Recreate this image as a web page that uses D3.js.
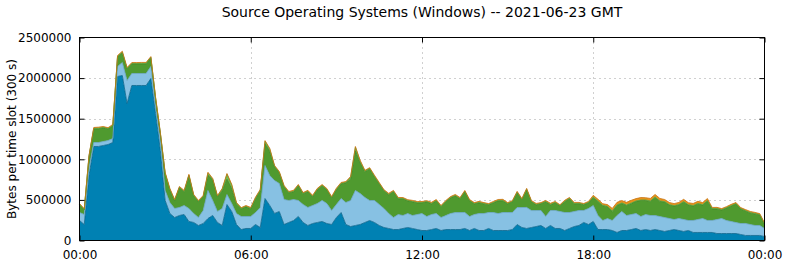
<!DOCTYPE html>
<html>
<head>
<meta charset="utf-8">
<script src="https://cdn.jsdelivr.net/npm/d3@7"></script>
<style>
  body { margin: 0; background: #ffffff; }
  svg text { font-family: "DejaVu Sans", sans-serif; fill: #000; }
</style>
</head>
<body>
<script>
// ------------------ data (thousands of bytes per 300 s slot, read every 10 min) ------------------
var slotMinutes = d3.range(0, 1441, 10);   // 00:00 .. 24:00

var win10 = [246,197,800,1158,1158,1170,1182,1207,2020,2032,1687,1909,1909,1909,1909,1995,1564,1108,493,333,
  283,308,320,234,222,185,209,271,308,222,185,443,357,197,135,148,148,197,160,517,
  431,333,357,197,222,246,296,222,185,209,222,234,209,197,283,345,197,172,185,197,
  222,246,222,185,160,148,135,135,148,160,148,135,123,123,135,148,123,135,135,135,
  135,148,123,148,123,123,148,123,123,123,123,135,197,160,148,160,172,185,148,185,
  148,148,123,148,172,185,222,197,234,135,135,135,123,99,123,123,135,148,123,135,
  123,135,123,111,123,135,123,111,123,99,99,99,99,99,86,86,86,86,86,74,
  62,62,62,62,49];

var win7 = [99,123,86,49,49,49,49,49,123,160,283,148,148,148,148,148,74,123,123,135,
  111,99,111,160,111,99,160,345,185,135,209,123,99,135,160,148,148,148,246,406,
  369,406,345,308,271,259,197,222,222,222,234,259,246,172,160,172,271,320,431,382,
  308,246,271,259,234,185,148,185,160,172,160,185,209,172,185,185,160,172,197,209,
  209,197,172,172,209,209,197,222,209,222,222,209,209,246,259,209,197,185,148,185,
  222,209,222,197,185,185,148,197,197,172,111,135,123,209,234,185,185,185,172,185,
  185,172,172,172,148,123,148,148,123,148,160,172,148,148,172,185,160,148,135,135,
  148,135,123,123,99];

var win81 = [95,58,144,169,169,169,144,156,119,119,144,119,119,119,119,107,107,83,206,156,
  95,243,169,403,218,193,169,187,255,181,216,189,179,119,95,119,95,169,206,268,
  298,169,132,156,95,95,181,132,193,107,169,181,169,156,181,181,243,261,487,376,
  317,390,292,255,218,230,317,193,206,156,169,144,132,181,132,156,132,169,193,206,
  169,255,193,132,132,119,95,119,156,144,107,132,181,95,218,107,70,83,181,70,
  95,70,132,169,95,83,70,70,97,171,183,146,112,124,99,124,136,149,198,173,
  173,223,186,191,166,166,166,215,191,178,191,166,240,142,130,105,154,191,228,179,
  154,142,142,130,56];

var win8 = [6,5,7,6,8,6,5,7,6,8,7,6,5,6,7,6,5,6,8,6,
  7,6,5,8,6,7,6,25,7,6,20,60,45,7,6,5,6,8,7,30,
  25,7,6,5,6,7,6,5,8,6,7,6,5,6,8,7,6,25,45,20,
  7,6,8,6,5,6,7,6,5,6,7,5,6,6,7,5,6,7,6,5,
  6,7,6,5,6,7,5,6,7,6,5,6,7,6,5,6,7,5,6,7,
  6,5,7,6,5,6,7,6,8,7,6,5,7,6,8,7,6,5,6,7,
  6,8,7,6,5,6,7,6,5,6,7,6,5,6,7,6,5,6,7,6,
  5,6,7,5,4];

var winOld = [10,9,11,10,12,10,9,11,10,12,10,9,10,11,10,9,12,10,9,11,
  10,9,12,10,11,9,10,12,10,9,11,10,12,10,9,11,10,12,10,9,
  11,10,9,12,10,11,10,9,10,12,10,9,11,10,12,10,9,11,10,12,
  10,9,11,10,9,12,10,11,10,9,10,11,10,9,12,10,11,9,10,12,
  10,9,11,10,12,9,10,11,10,12,10,9,11,10,12,10,11,9,10,12,
  10,9,11,10,12,10,9,11,20,22,18,21,30,32,28,31,33,29,30,27,
  31,29,30,25,26,24,25,27,23,25,26,24,25,12,13,11,12,14,12,11,
  12,13,12,11,10];

var seriesKeys   = ['win10', 'win7', 'win81', 'win8', 'winOld'];
var seriesFill   = ['#0081b3', '#87c1e3', '#4f9a2f', '#70bf50', '#e8921a'];
var seriesStroke = ['#05628a', '#6aa6cb', '#3e8024', '#5aa53c', '#c77410'];

var yTicks = [0, 500000, 1000000, 1500000, 2000000, 2500000];
var xTicks = [0, 360, 720, 1080, 1440];
var xTickLabels = ['00:00', '06:00', '12:00', '18:00', '00:00'];

var titleText = 'Source Operating Systems (Windows) -- 2021-06-23 GMT';
var yLabelText = 'Bytes per time slot (300 s)';

// ------------------ table for d3.stack ------------------
var table = slotMinutes.map(function(m, i) {
  return { t: m, win10: win10[i] * 1000, win7: win7[i] * 1000, win81: win81[i] * 1000,
           win8: win8[i] * 1000, winOld: winOld[i] * 1000 };
});

// ------------------ svg + scales ------------------
var W = 785, H = 264;
var pLeft = 79.5, pRight = 764.5, pTop = 37.5, pBottom = 240.5;

var svg = d3.select('body').append('svg').attr('width', W).attr('height', H);

var x = d3.scaleLinear().domain([0, 1440]).range([pLeft, pRight]);
var y = d3.scaleLinear().domain([0, 2500000]).range([pBottom, pTop]);

// ------------------ grid (dotted) ------------------
var grid = svg.append('g');
grid.selectAll('.gy').data(yTicks.slice(1, -1)).enter().append('line')
    .attr('x1', pLeft).attr('x2', pRight)
    .attr('y1', function(d) { return Math.round(y(d)) + 0.5; })
    .attr('y2', function(d) { return Math.round(y(d)) + 0.5; })
    .attr('stroke', '#a0a0a0').attr('stroke-width', 1).attr('stroke-dasharray', '1,4');
grid.selectAll('.gx').data(xTicks.slice(1, -1)).enter().append('line')
    .attr('y1', pTop).attr('y2', pBottom)
    .attr('x1', function(d) { return Math.round(x(d)) + 0.5; })
    .attr('x2', function(d) { return Math.round(x(d)) + 0.5; })
    .attr('stroke', '#a0a0a0').attr('stroke-width', 1).attr('stroke-dasharray', '1,4');

// ------------------ stacked areas ------------------
var stack = d3.stack().keys(seriesKeys);
var layers = stack(table);

var area = d3.area()
    .x(function(d) { return x(d.data.t); })
    .y0(function(d) { return y(d[0]); })
    .y1(function(d) { return y(d[1]); });

var topLine = d3.line()
    .x(function(d) { return x(d.data.t); })
    .y(function(d) { return y(d[1]); });

svg.append('g').selectAll('path').data(layers).enter().append('path')
    .attr('d', area)
    .attr('fill', function(d, i) { return seriesFill[i]; });

svg.append('g').selectAll('path').data(layers).enter().append('path')
    .attr('d', topLine)
    .attr('fill', 'none')
    .attr('stroke', function(d, i) { return seriesStroke[i]; })
    .attr('stroke-width', 0.8);

// ------------------ axes (gnuplot style: inward ticks, mirrored) ------------------
var yAxisL = d3.axisLeft(y).tickValues(yTicks).tickSizeInner(-5).tickSizeOuter(0)
    .tickPadding(8).tickFormat(d3.format('d'));
var yAxisR = d3.axisRight(y).tickValues(yTicks).tickSizeInner(-5).tickSizeOuter(0)
    .tickFormat('');
var xAxisB = d3.axisBottom(x).tickValues(xTicks).tickSizeInner(-5).tickSizeOuter(0)
    .tickPadding(10).tickFormat(function(d, i) { return xTickLabels[i]; });
var xAxisT = d3.axisTop(x).tickValues(xTicks).tickSizeInner(-5).tickSizeOuter(0)
    .tickFormat('');

svg.append('g').attr('transform', 'translate(' + pLeft + ',0)').call(yAxisL);
svg.append('g').attr('transform', 'translate(' + pRight + ',0)').call(yAxisR);
svg.append('g').attr('transform', 'translate(0,' + pBottom + ')').call(xAxisB);
svg.append('g').attr('transform', 'translate(0,' + pTop + ')').call(xAxisT);

svg.selectAll('.domain').remove();
svg.selectAll('.tick line').attr('stroke', '#000');
svg.selectAll('.tick text').attr('font-size', 12).attr('font-family', '"DejaVu Sans", sans-serif');

// border
svg.append('rect').attr('x', pLeft).attr('y', pTop)
    .attr('width', pRight - pLeft).attr('height', pBottom - pTop)
    .attr('fill', 'none').attr('stroke', '#000').attr('stroke-width', 1);

// ------------------ labels ------------------
svg.append('text').attr('x', (pLeft + pRight) / 2).attr('y', 17)
    .attr('text-anchor', 'middle').attr('font-size', 14).text(titleText);

svg.append('text').attr('transform', 'translate(16,' + ((pTop + pBottom) / 2) + ') rotate(-90)')
    .attr('text-anchor', 'middle').attr('font-size', 12).text(yLabelText);
</script>
</body>
</html>
